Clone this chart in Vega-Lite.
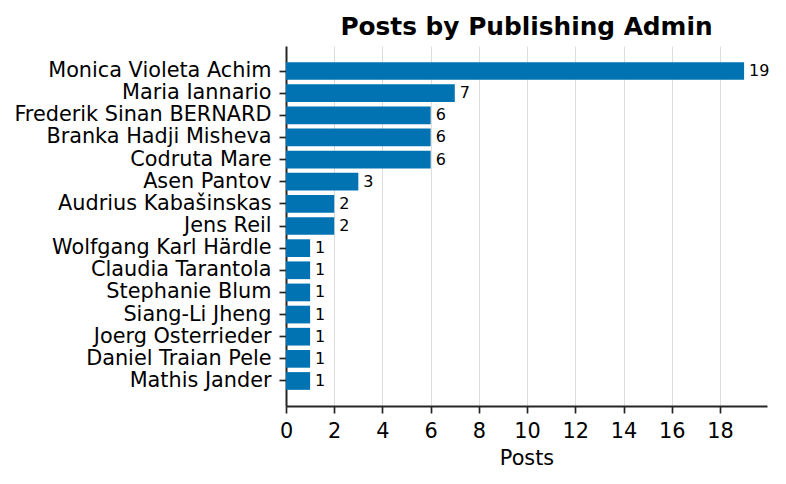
{
  "$schema": "https://vega.github.io/schema/vega-lite/v6.json",
  "autosize": {"type": "none"},
  "width": 481,
  "height": 360,
  "padding": {"left": 286, "top": 46, "right": 19, "bottom": 78},
  "background": "white",
  "config": {
    "font": "DejaVu Sans",
    "view": {"stroke": null},
    "axis": {
      "labelFont": "DejaVu Sans",
      "titleFont": "DejaVu Sans",
      "labelColor": "#000000",
      "titleColor": "#000000",
      "domainColor": "#262626",
      "domainWidth": 2,
      "tickColor": "#262626",
      "tickWidth": 1.7,
      "tickSize": 7,
      "gridColor": "#dddddd",
      "gridWidth": 1,
      "labelLimit": 0,
      "labelFlush": false
    }
  },
  "title": {
    "text": "Posts by Publishing Admin",
    "font": "DejaVu Sans",
    "fontSize": 24.8,
    "fontWeight": "bold",
    "color": "#000000",
    "anchor": "middle",
    "frame": "group",
    "offset": 6
  },
  "data": {
    "values": [
      {"admin": "Monica Violeta Achim", "posts": 19},
      {"admin": "Maria Iannario", "posts": 7},
      {"admin": "Frederik Sinan BERNARD", "posts": 6},
      {"admin": "Branka Hadji Misheva", "posts": 6},
      {"admin": "Codruta Mare", "posts": 6},
      {"admin": "Asen Pantov", "posts": 3},
      {"admin": "Audrius Kabašinskas", "posts": 2},
      {"admin": "Jens Reil", "posts": 2},
      {"admin": "Wolfgang Karl Härdle", "posts": 1},
      {"admin": "Claudia Tarantola", "posts": 1},
      {"admin": "Stephanie Blum", "posts": 1},
      {"admin": "Siang-Li Jheng", "posts": 1},
      {"admin": "Joerg Osterrieder", "posts": 1},
      {"admin": "Daniel Traian Pele", "posts": 1},
      {"admin": "Mathis Jander", "posts": 1}
    ]
  },
  "encoding": {
    "y": {
      "field": "admin",
      "type": "nominal",
      "sort": null,
      "scale": {"paddingInner": 0.2, "paddingOuter": 0.73},
      "axis": {
        "title": null,
        "labelFontSize": 20.8,
        "labelPadding": 8,
        "grid": false
      }
    },
    "x": {
      "field": "posts",
      "type": "quantitative",
      "scale": {"domain": [0, 19.95], "nice": false, "zero": true},
      "axis": {
        "title": "Posts",
        "titleFontSize": 20.8,
        "titleFontWeight": "normal",
        "titlePadding": 8,
        "labelFontSize": 20.8,
        "labelPadding": 8,
        "values": [0, 2, 4, 6, 8, 10, 12, 14, 16, 18],
        "grid": true
      }
    }
  },
  "layer": [
    {
      "mark": {"type": "bar", "color": "#0173B2"}
    },
    {
      "mark": {
        "type": "text",
        "align": "left",
        "baseline": "middle",
        "dx": 5,
        "fontSize": 16,
        "color": "#000000",
        "font": "DejaVu Sans"
      },
      "encoding": {"text": {"field": "posts", "type": "quantitative"}}
    }
  ]
}
